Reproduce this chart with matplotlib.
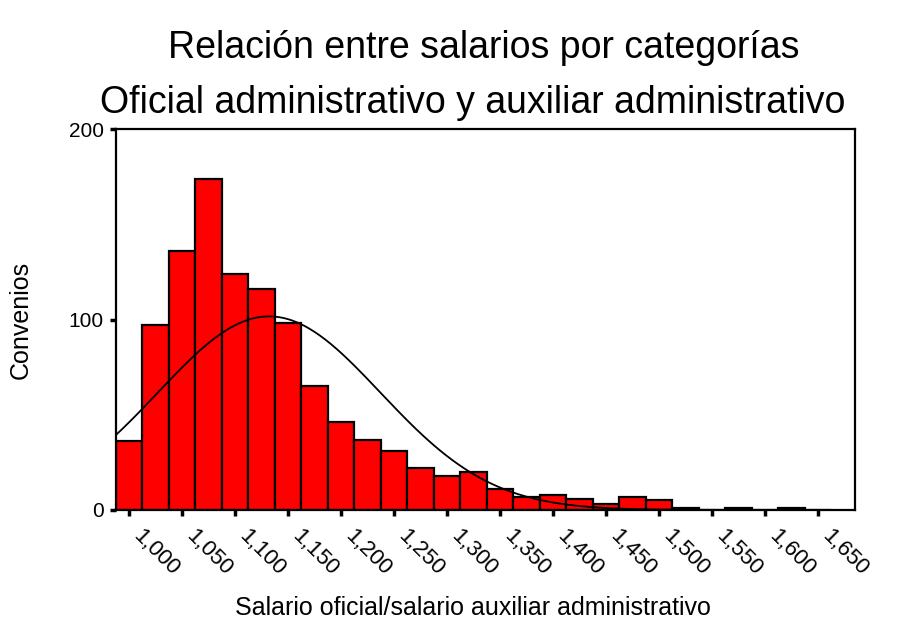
import numpy as np
import matplotlib
matplotlib.use('Agg')
import matplotlib.pyplot as plt

plt.rcParams['font.family'] = ['Liberation Sans', 'DejaVu Sans']

# bin centres (salary ratio) and counts of agreements
bin_centres = [1.000, 1.025, 1.050, 1.075, 1.100, 1.125, 1.150, 1.175, 1.200,
               1.225, 1.250, 1.275, 1.300, 1.325, 1.350, 1.375, 1.400, 1.425,
               1.450, 1.475, 1.500, 1.525, 1.550, 1.575, 1.600, 1.625, 1.650]
counts = [36, 97, 136, 174, 124, 116, 98, 65, 46,
          37, 31, 22, 18, 20, 11, 7, 8, 6,
          3, 7, 5, 1, 0, 1, 0, 1, 0]
bin_width = 0.025

# fitted normal curve parameters
curve_mean = 1.132
curve_sd = 0.105

tick_values = [1.000, 1.050, 1.100, 1.150, 1.200, 1.250, 1.300, 1.350,
               1.400, 1.450, 1.500, 1.550, 1.600, 1.650]
tick_labels = ['1,000', '1,050', '1,100', '1,150', '1,200', '1,250', '1,300',
               '1,350', '1,400', '1,450', '1,500', '1,550', '1,600', '1,650']

fig = plt.figure(figsize=(9.17, 6.23), dpi=100)
ax = fig.add_axes([0.1265, 0.1814, 0.806, 0.6115])

ax.bar(bin_centres, counts, width=bin_width, color='#ff0000',
       edgecolor='black', linewidth=1.6, zorder=2)

n_total = sum(counts)
xs = np.linspace(0.9875, 1.685, 400)
ys = n_total * bin_width / (curve_sd * np.sqrt(2 * np.pi)) * \
    np.exp(-0.5 * ((xs - curve_mean) / curve_sd) ** 2)
ax.plot(xs, ys, color='black', linewidth=1.3, zorder=3)

ax.set_xlim(0.9875, 1.685)
ax.set_ylim(0, 200)
ax.set_yticks([0, 100, 200])
ax.set_xticks(tick_values)
ax.set_xticklabels(tick_labels, rotation=-45, ha='left', va='bottom',
                   rotation_mode='anchor', fontsize=16)
ax.tick_params(axis='y', labelsize=15, length=4, width=2.5, direction='out', pad=5)
ax.tick_params(axis='x', length=4, width=2.5, direction='out', pad=18)
for s in ax.spines.values():
    s.set_linewidth(1.6)

ax.set_ylabel('Convenios', fontsize=18)
ax.yaxis.set_label_coords(-0.112, 0.5)
ax.set_xlabel('Salario oficial/salario auxiliar administrativo', fontsize=18)
ax.xaxis.set_label_coords(0.483, -0.225)

fig.text(0.527, 0.923, 'Relación entre salarios por categorías',
         ha='center', va='center', fontsize=27)
fig.text(0.516, 0.835, 'Oficial administrativo y auxiliar administrativo',
         ha='center', va='center', fontsize=27)

fig.savefig('out.png', dpi=100)
